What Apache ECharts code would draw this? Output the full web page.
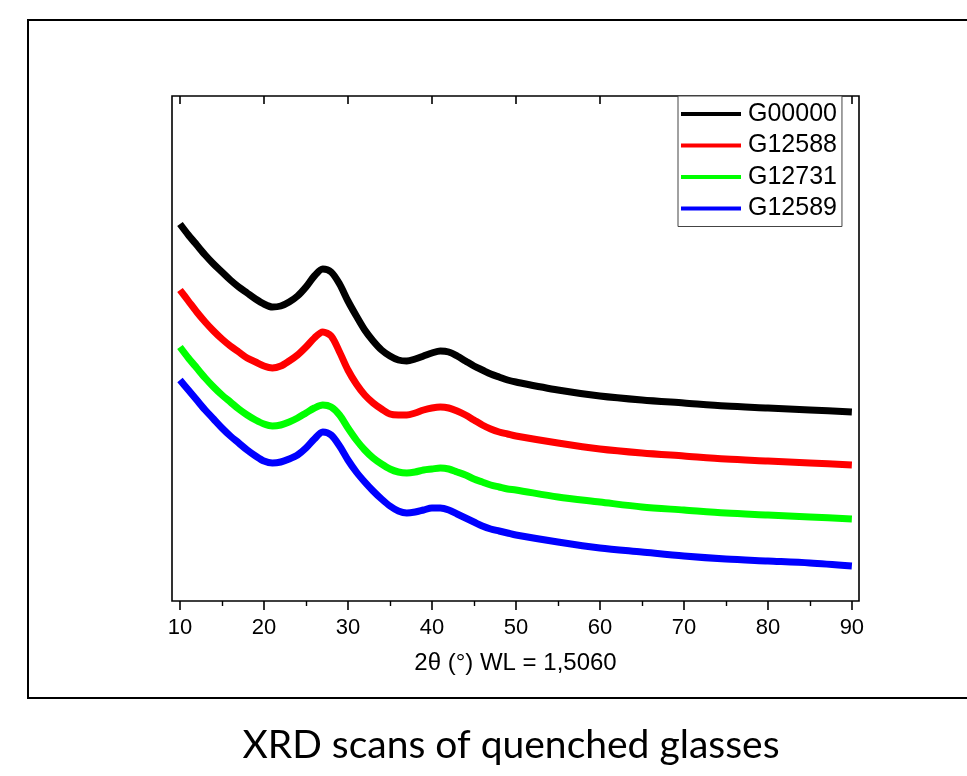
<!DOCTYPE html>
<html>
<head>
<meta charset="utf-8">
<script src="https://cdn.jsdelivr.net/npm/echarts@6/dist/echarts.min.js"></script>
<style>
html,body{margin:0;padding:0;background:#fff;}
#chart{width:967px;height:776px;}
</style>
</head>
<body>
<div id="chart"></div>
<script>
const twoTheta = [10,11,12,13,14,15,16,17,18,19,20,21,22,23,24,25,26,27,28,29,30,31,32,33,34,35,36,37,38,39,40,41,42,43,44,45,46,47,48,49,50,55,60,65,70,75,80,85,90];
const G00000 = [377,366,356,346,337,329,321,314,308,302,297,294,295,299,305,314,325,332,329,317,300,285,271,260,251,245,241,240,242,245,248,250,249,245,240,235,231,227,224,221,219,211,205,201,198,195,193,191,189];
const G12588 = [311,300,289,279,270,262,255,249,243,239,235,233,235,240,246,254,263,269,265,249,231,217,206,198,192,187,186,186,188,191,193,194,193,190,186,181,176,172,169,167,165,158,152,148,145,142,140,138,136];
const G12731 = [254,243,233,223,214,206,199,192,186,181,177,175,176,179,183,188,193,196,194,186,173,161,151,143,137,132,129,128,129,131,132,133,132,129,126,122,119,116,114,112,111,104,99,94,91,88,86,84,82];
const G12589 = [221,211,201,191,182,173,165,158,151,145,140,138,139,142,146,153,162,169,166,155,141,129,119,110,102,95,90,88,89,91,93,93,91,87,83,79,75,72,70,68,66,59,53,49,45,42,40,38,35];
const seriesNames = ['G00000','G12588','G12731','G12589'];
const seriesColors = ['#000000','#ff0000','#00ff00','#0000ff'];
const majorTicks = [10,20,30,40,50,60,70,80,90];
const minorTicks = [15,25,35,45,55,65,75,85];
const xTitle = '2θ (°) WL = 1,5060';
const caption = 'XRD scans of quenched glasses';

const allData = [G00000, G12588, G12731, G12589];
const chart = echarts.init(document.getElementById('chart'), null, {renderer:'canvas'});
const XMIN = 9.05, XMAX = 90.85;
const baseX = {
  type:'value', min:XMIN, max:XMAX, gridIndex:0,
  splitLine:{show:false},
  axisLine:{show:false}
};
chart.setOption({
  backgroundColor:'#ffffff',
  animation:false,
  grid:{left:172, top:96, right:108, bottom:175, show:true, borderColor:'#000', borderWidth:1.6, backgroundColor:'transparent'},
  xAxis:[
    Object.assign({}, baseX, {
      position:'bottom',
      axisTick:{show:true, inside:false, length:9, lineStyle:{color:'#000', width:1.6}, customValues:majorTicks},
      axisLabel:{show:true, customValues:majorTicks, color:'#000', fontFamily:'Liberation Sans', fontSize:22, margin:16},
      name:xTitle, nameLocation:'middle', nameGap:50,
      nameTextStyle:{color:'#000', fontFamily:'Liberation Sans', fontSize:24}
    }),
    Object.assign({}, baseX, {
      position:'bottom',
      axisTick:{show:true, inside:false, length:5, lineStyle:{color:'#000', width:1.4}, customValues:minorTicks},
      axisLabel:{show:false}
    }),
    Object.assign({}, baseX, {
      position:'top',
      axisTick:{show:true, inside:true, length:8, lineStyle:{color:'#000', width:1.6}, customValues:majorTicks},
      axisLabel:{show:false}
    })
  ],
  yAxis:{type:'value', min:0, max:505, show:true, axisLine:{show:false}, axisTick:{show:false}, axisLabel:{show:false}, splitLine:{show:false}},
  legend:{
    orient:'vertical', left:678, top:96,
    data:seriesNames.map((n,i)=>({name:n, icon:'rect', itemStyle:{color:seriesColors[i]}})),
    itemWidth:60, itemHeight:4, itemGap:5.5,
    padding:[5,5,5,3],
    backgroundColor:'#ffffff', borderColor:'#444', borderWidth:1,
    textStyle:{color:'#000', fontFamily:'Liberation Sans', fontSize:25, lineHeight:26, padding:[0,0,0,2]},
    z:10
  },
  series:seriesNames.map((n,i)=>({
    name:n, type:'line', xAxisIndex:0, yAxisIndex:0,
    data:twoTheta.map((x,j)=>[x, allData[i][j]]),
    showSymbol:false, smooth:0.3,
    lineStyle:{color:seriesColors[i], width:7},
    itemStyle:{color:seriesColors[i]}
  })),
  graphic:[
    {type:'rect', shape:{x:28, y:20, width:960, height:678}, style:{fill:'none', stroke:'#000', lineWidth:2}, z:100},
    {type:'text', x:511, y:745, style:{text:caption, fill:'#000', font:'39px Lato', textAlign:'center', textVerticalAlign:'middle'}, z:100}
  ]
});
</script>
</body>
</html>
